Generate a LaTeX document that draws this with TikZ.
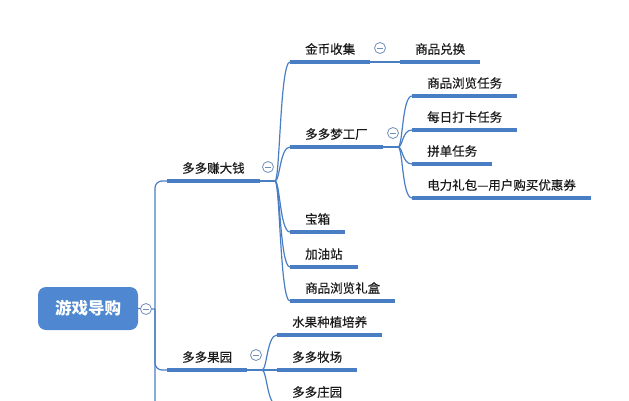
\documentclass[tikz,border=0pt]{standalone}
\usepackage{fontspec}
\setmainfont{Noto Sans CJK SC}
\newfontface\topicfont{Noto Sans CJK SC}[FakeBold=0.35]
\usepackage{tikz}
\definecolor{MapBlue}{HTML}{4A7EC4}
\definecolor{MapRoot}{HTML}{4F88D0}
\definecolor{MapFold}{HTML}{6F8FBA}
\definecolor{MapText}{HTML}{1A1A1A}
\tikzset{
  topic/.style={anchor=south west,inner xsep=15pt,inner ysep=4pt,text height=10pt,text depth=4pt,
    text=MapText,font=\topicfont\fontsize{12.5}{15}\selectfont},
  rootbox/.style={rounded corners=8pt,fill=MapRoot,text=white,minimum width=100pt,minimum height=43pt,
    font=\fontsize{16.5}{20}\selectfont\bfseries},
  uline/.style={draw=MapBlue,line width=3.4pt},
  link/.style={draw=MapBlue,line width=1.2pt},
  twig/.style={to path={.. controls +(5,0) and +(-10,0) .. (\tikztotarget)}},
  fold/.style={circle,draw=MapFold,line width=0.8pt,fill=white,minimum size=11pt,inner sep=0pt,
    path picture={\draw[MapFold,line width=0.8pt] ([xshift=-3pt]path picture bounding box.center)
      -- ([xshift=3pt]path picture bounding box.center);}}
}
\begin{document}
\begin{tikzpicture}[x=1pt,y=-1pt]
\path[use as bounding box] (0,0) rectangle (629,400);
\node[rootbox] (root) at (88,308.5) {游戏导购};
\node[topic] (zhuan) at (167,181) {多多赚大钱};
\node[topic] (guoyuan) at (167,370) {多多果园};
\node[topic] (jinbi) at (290,62) {金币收集};
\node[topic] (duihuan) at (400,62) {商品兑换};
\node[topic] (meng) at (290,147) {多多梦工厂};
\node[topic] (baoxiang) at (290,232) {宝箱};
\node[topic] (jiayou) at (290,267) {加油站};
\node[topic] (lihe) at (290,301) {商品浏览礼盒};
\node[topic] (liulan) at (412,96) {商品浏览任务};
\node[topic] (daka) at (412,130) {每日打卡任务};
\node[topic] (pindan) at (412,164) {拼单任务};
\node[topic] (dianli) at (412,198) {电力礼包—用户购买优惠券};
\node[topic] (zhongzhi) at (277,335) {水果种植培养};
\node[topic] (muchang) at (277,370) {多多牧场};
\node[topic] (zhuangyuan) at (277,405) {多多庄园};
\coordinate (spine) at (155,309);
\coordinate (spineend) at (155,410);
\coordinate (zfork) at (275,181);
\coordinate (mfork) at (398,147);
\coordinate (gfork) at (262,370);
% connectors
\draw[link] (root.east) -- (spine);
\draw[link,rounded corners=7pt] (zhuan.south west) -| (spineend);
\draw[link,rounded corners=7pt] (guoyuan.south west) -| (spine);
\draw[link] (zhuan.south east) -- (zfork);
\foreach \c in {jinbi,meng,baoxiang,jiayou,lihe}
  \draw[link] (zfork) to[twig] (\c.south west);
\draw[link] (jinbi.south east) -- (duihuan.south west);
\draw[link] (meng.south east) -- (mfork);
\foreach \c in {liulan,daka,pindan,dianli}
  \draw[link] (mfork) to[twig] (\c.south west);
\draw[link] (guoyuan.south east) -- (gfork);
\foreach \c in {zhongzhi,muchang,zhuangyuan}
  \draw[link] (gfork) to[twig] (\c.south west);
% underlines
\foreach \c in {zhuan,guoyuan,jinbi,duihuan,meng,baoxiang,jiayou,lihe,liulan,daka,pindan,dianli,zhongzhi,muchang,zhuangyuan}
  \draw[uline] (\c.south west) -- (\c.south east);
% fold buttons
\node[fold] (rootc) at (146,309) {};
\node[fold] (zhuanc) at (268,167) {};
\node[fold] (jinbic) at (380,48) {};
\node[fold] (mengc) at (393,133) {};
\node[fold] (guoyuanc) at (256,355) {};
\end{tikzpicture}
\end{document}
